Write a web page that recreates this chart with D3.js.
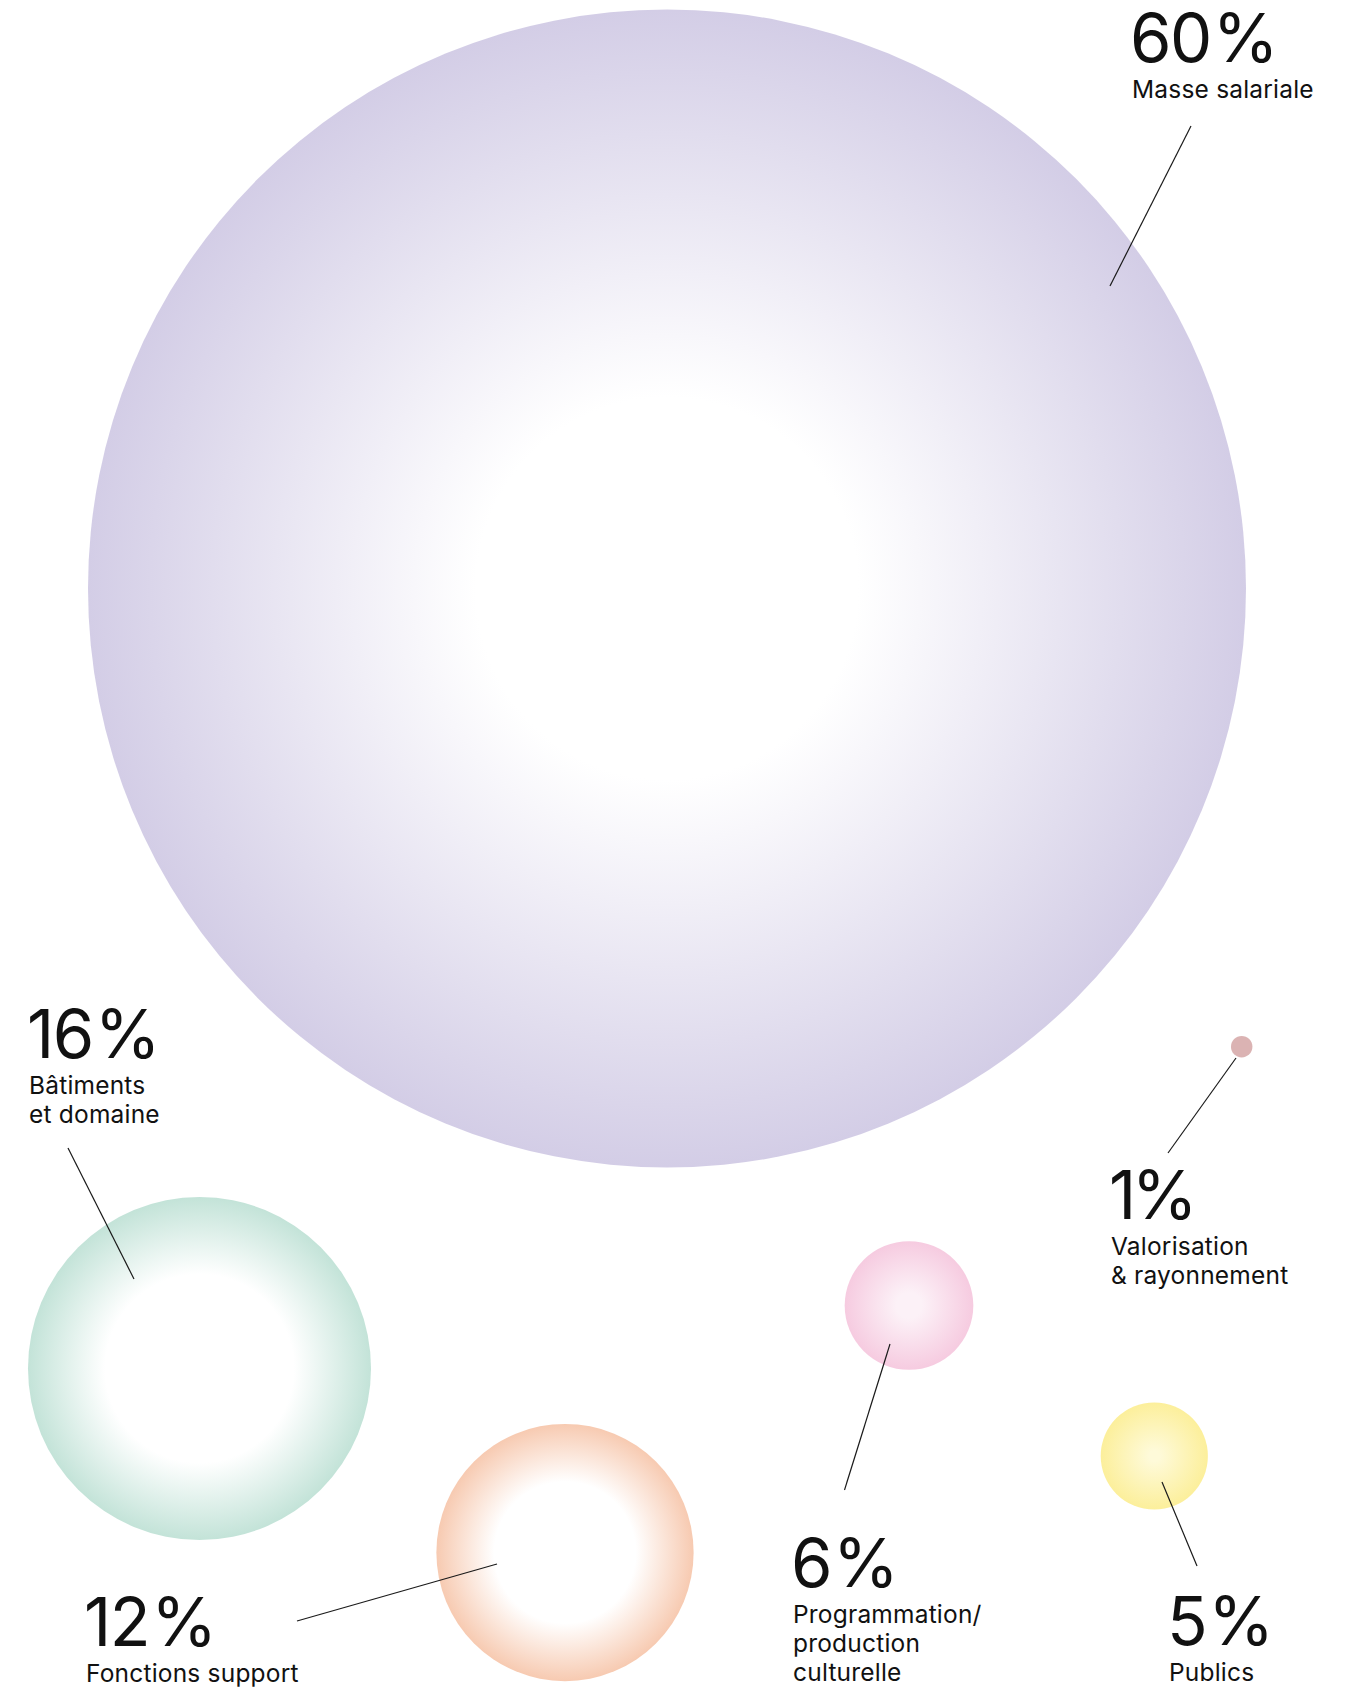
<!DOCTYPE html>
<html>
<head>
<meta charset="utf-8">
<script src="https://cdn.jsdelivr.net/npm/d3@7"></script>
<style>
  html, body { margin: 0; padding: 0; background: #fff; }
  svg { display: block; }
  text { font-family: Inter, "Noto Sans", sans-serif; fill: #111; }
</style>
</head>
<body>
<div id="chart"></div>
<script>
// budget shares (%)
var categories = ["Masse salariale", "Bâtiments et domaine", "Fonctions support",
    "Programmation/production culturelle", "Publics", "Valorisation & rayonnement"];
var shares = [60, 16, 12, 6, 5, 1];
var labelLines = [
    ["Masse salariale"],
    ["Bâtiments", "et domaine"],
    ["Fonctions support"],
    ["Programmation/", "production", "culturelle"],
    ["Publics"],
    ["Valorisation", "& rayonnement"]
];

// layout (px) - bubble centers, label anchors, leader lines
var centers = [[667, 588.5], [199.5, 1368.5], [565, 1552.5], [909, 1305.5], [1154.3, 1456], [1241.7, 1046.7]];
var labelAt = [[1130, 62], [27, 1058], [84, 1646], [791, 1587], [1167, 1645], [1109, 1219]];
var pctGap = [2, 2, 2, 2, 2, -3];
var leaders = [
    [[1191, 126], [1110, 286]],
    [[68, 1148], [134, 1279]],
    [[297, 1621], [497, 1564]],
    [[844.5, 1490], [890, 1344]],
    [[1197, 1566], [1162, 1482]],
    [[1168, 1153], [1236, 1058]]
];

// styles
var edgeColors = ["#d3cde6", "#c3e3d8", "#f7cab1", "#f6cbe0", "#fcef9b", "#dbb3b3"];
var innerColors = ["#ffffff", "#ffffff", "#ffffff", "#fcf1f7", "#fefad9", "#dbb3b3"];
var innerStops = [0.33, 0.55, 0.55, 0.2, 0.1, 0];

var W = 1348, H = 1687;

var svg = d3.select("#chart").append("svg")
    .attr("width", W)
    .attr("height", H);

// radius is linear in share, the 60 % bubble is capped
var r = d3.scaleLinear().domain([0, 16, 60]).range([0, 171.5, 579]);

var data = shares.map(function(v, i) {
    return {
        id: i,
        name: categories[i],
        value: v,
        cx: centers[i][0],
        cy: centers[i][1],
        lines: labelLines[i],
        lx: labelAt[i][0],
        ly: labelAt[i][1],
        gap: pctGap[i],
        leader: leaders[i]
    };
});

var defs = svg.append("defs");
data.forEach(function(d, i) {
    var g = defs.append("radialGradient")
        .attr("id", "grad" + i)
        .attr("cx", "50%").attr("cy", "50%").attr("r", "50%");
    g.append("stop").attr("offset", "0%").attr("stop-color", innerColors[i]);
    g.append("stop").attr("offset", (innerStops[i] * 100) + "%").attr("stop-color", innerColors[i]);
    g.append("stop").attr("offset", "100%").attr("stop-color", edgeColors[i]);
});

svg.selectAll("circle.bubble")
    .data(data, (d) => d.id)
    .enter()
    .append("circle")
    .attr("class", "bubble")
    .attr("cx", (d) => d.cx)
    .attr("cy", (d) => d.cy)
    .attr("r", (d) => r(d.value))
    .style("fill", (d) => "url(#grad" + d.id + ")");

svg.selectAll("line.leader")
    .data(data, (d) => d.id)
    .enter()
    .append("line")
    .attr("class", "leader")
    .attr("x1", (d) => d.leader[0][0])
    .attr("y1", (d) => d.leader[0][1])
    .attr("x2", (d) => d.leader[1][0])
    .attr("y2", (d) => d.leader[1][1])
    .style("stroke", "#1a1a1a")
    .style("stroke-width", 1.2);

var labels = svg.selectAll("g.label")
    .data(data, (d) => d.id)
    .enter()
    .append("g")
    .attr("class", "label")
    .attr("transform", (d) => "translate(" + d.lx + "," + d.ly + ")");

var pct = labels.append("text")
    .attr("x", 0)
    .attr("y", 0)
    .style("font-size", "67px");
pct.append("tspan")
    .style("letter-spacing", "-1.5px")
    .text((d) => d.value);
pct.append("tspan")
    .attr("dx", (d) => d.gap)
    .style("letter-spacing", "0px")
    .text("%");

labels.each(function(d) {
    d3.select(this).selectAll("text.name")
        .data(d.lines)
        .enter()
        .append("text")
        .attr("class", "name")
        .attr("x", 2)
        .attr("y", (t, j) => 36 + j * 29)
        .style("font-size", "24.5px")
        .style("letter-spacing", "0.2px")
        .text((t) => t);
});
</script>
</body>
</html>
